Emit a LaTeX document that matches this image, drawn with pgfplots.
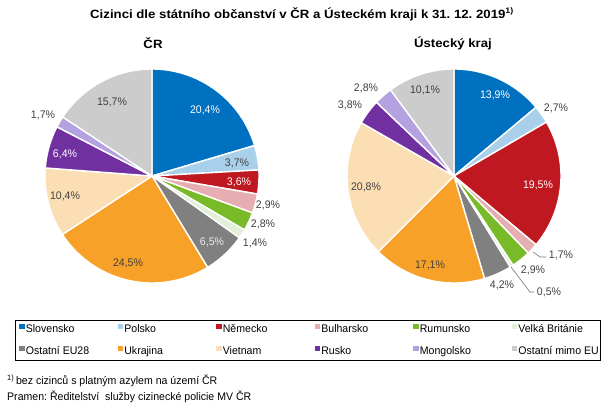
\documentclass[border=0pt]{standalone}
\usepackage{fontspec}
\setmainfont{Liberation Sans}[FakeStretch=0.96]
\newfontfamily\titlefont{Liberation Sans}[FakeStretch=1.1]
\usepackage{pgfplots}
\usepackage{pgfplotstable}
\pgfplotsset{compat=1.18}

\definecolor{cSk}{RGB}{0,112,192}
\definecolor{cPl}{RGB}{169,208,235}
\definecolor{cDe}{RGB}{192,24,32}
\definecolor{cBg}{RGB}{230,174,177}
\definecolor{cRo}{RGB}{120,186,40}
\definecolor{cGb}{RGB}{226,239,217}
\definecolor{cEu}{RGB}{128,128,128}
\definecolor{cUa}{RGB}{247,161,40}
\definecolor{cVn}{RGB}{252,222,180}
\definecolor{cRu}{RGB}{112,48,160}
\definecolor{cMn}{RGB}{180,162,224}
\definecolor{cOt}{RGB}{204,204,204}
\definecolor{lbl}{RGB}{64,64,64}

\tikzset{
  lab/.style={font=\fontsize{11}{12}\selectfont, text=lbl, inner sep=0pt},
  wlab/.style={lab, text=white},
  ttl/.style={font=\titlefont\bfseries\fontsize{12}{14}\selectfont},
}

% shares in percent, clockwise from 12 o'clock
% Slovensko, Polsko, Německo, Bulharsko, Rumunsko, Velká Británie,
% Ostatní EU28, Ukrajina, Vietnam, Rusko, Mongolsko, Ostatní mimo EU
\pgfplotstableread{
value color
20.4 cSk
3.7  cPl
3.6  cDe
2.9  cBg
2.8  cRo
1.4  cGb
6.5  cEu
24.5 cUa
10.4 cVn
6.4  cRu
1.7  cMn
15.7 cOt
}\dataCR

\pgfplotstableread{
value color
13.9 cSk
2.7  cPl
19.5 cDe
1.7  cBg
2.9  cRo
0.5  cGb
4.2  cEu
17.1 cUa
20.8 cVn
3.8  cRu
2.8  cMn
10.1 cOt
}\dataUK

\newcommand{\drawpie}[3]{%
  \gdef\cum{0}%
  \pgfplotstablegetrowsof{#1}%
  \pgfmathtruncatemacro\nrows{\pgfplotsretval-1}%
  \pgfplotsforeachungrouped \i in {0,...,\nrows}{%
    \pgfplotstablegetelem{\i}{value}\of{#1}\let\val\pgfplotsretval
    \pgfplotstablegetelem{\i}{color}\of{#1}\let\col\pgfplotsretval
    \pgfmathsetmacro\nxt{\cum+\val}%
    \edef\temp{\noexpand\addplot[forget plot, fill=\col, draw=white,
      line width=1.4pt, line join=round, domain=\cum:\nxt, samples=50,
      variable=\noexpand\t]
      ({#2+107*sin(3.6*\noexpand\t)},{#3+107*cos(3.6*\noexpand\t)})
      -- (axis cs:#2,#3) -- cycle;}%
    \temp
    \xdef\cum{\nxt}%
  }%
}

\begin{document}
\frenchspacing
\begin{tikzpicture}
\useasboundingbox (0,0) rectangle (604pt,405pt);
\begin{axis}[
  at={(0,0)}, anchor=south west,
  width=604pt, height=405pt, scale only axis,
  xmin=0, xmax=604, ymin=0, ymax=405,
  enlargelimits=false, hide axis, clip=false,
  sq/.style={legend image code/.code={\fill[#1] (0pt,1pt) rectangle (4.5pt,5.5pt);}},
  legend columns=6,
  legend style={
    at={(0.02483,0.2099)}, anchor=north west,
    draw=black, line width=0.9pt,
    inner xsep=4pt, inner ysep=3pt,
    font=\fontsize{11}{12}\selectfont,
    row sep=9.5pt,
    nodes={inner xsep=1pt, inner ysep=1pt, text height=8pt, text depth=2.5pt},
    /tikz/every even column/.append style={column sep=2.1pt},
    /tikz/every odd column/.append style={column sep=0pt},
  },
]
\drawpie{\dataCR}{152}{229}
\drawpie{\dataUK}{454}{229}

\addlegendimage{sq=cSk}\addlegendentry{\makebox[89pt][l]{Slovensko}}
\addlegendimage{sq=cPl}\addlegendentry{\makebox[89pt][l]{Polsko}}
\addlegendimage{sq=cDe}\addlegendentry{\makebox[89pt][l]{Německo}}
\addlegendimage{sq=cBg}\addlegendentry{\makebox[89pt][l]{Bulharsko}}
\addlegendimage{sq=cRo}\addlegendentry{\makebox[89pt][l]{Rumunsko}}
\addlegendimage{sq=cGb}\addlegendentry{\makebox[77pt][l]{Velká Británie}}
\addlegendimage{sq=cEu}\addlegendentry{\makebox[89pt][l]{Ostatní EU28}}
\addlegendimage{sq=cUa}\addlegendentry{\makebox[89pt][l]{Ukrajina}}
\addlegendimage{sq=cVn}\addlegendentry{\makebox[89pt][l]{Vietnam}}
\addlegendimage{sq=cRu}\addlegendentry{\makebox[89pt][l]{Rusko}}
\addlegendimage{sq=cMn}\addlegendentry{\makebox[89pt][l]{Mongolsko}}
\addlegendimage{sq=cOt}\addlegendentry{\makebox[77pt][l]{Ostatní mimo EU}}

% titles
\node[ttl] at (axis cs:302,391)
  {Cizinci dle státního občanství v ČR a Ústeckém kraji k 31. 12. 2019\textsuperscript{1)}};
\node[ttl] at (axis cs:153,362) {ČR};
\node[ttl] at (axis cs:453,362) {Ústecký kraj};

% labels ČR
\node[wlab] at (axis cs:205,295) {20,4\%};
\node[lab]  at (axis cs:237,242) {3,7\%};
\node[wlab] at (axis cs:239,223) {3,6\%};
\node[lab]  at (axis cs:268,200) {2,9\%};
\node[lab]  at (axis cs:263,181) {2,8\%};
\node[lab]  at (axis cs:255,162) {1,4\%};
\node[lab, text=white!92!black] at (axis cs:212,163) {6,5\%};
\node[lab]  at (axis cs:128,142) {24,5\%};
\node[lab]  at (axis cs:65,209) {10,4\%};
\node[wlab] at (axis cs:65,251) {6,4\%};
\node[lab]  at (axis cs:43,290) {1,7\%};
\node[lab]  at (axis cs:112,303) {15,7\%};

% labels Ústecký kraj
\node[wlab] at (axis cs:495,310) {13,9\%};
\node[lab]  at (axis cs:556,297) {2,7\%};
\node[wlab] at (axis cs:538,220) {19,5\%};
\node[lab]  at (axis cs:561,150) {1,7\%};
\node[lab]  at (axis cs:533,135) {2,9\%};
\node[lab]  at (axis cs:549,113) {0,5\%};
\node[lab]  at (axis cs:502,120) {4,2\%};
\node[lab]  at (axis cs:430,140) {17,1\%};
\node[lab]  at (axis cs:366,218) {20,8\%};
\node[lab]  at (axis cs:350,300) {3,8\%};
\node[lab]  at (axis cs:366,317) {2,8\%};
\node[lab]  at (axis cs:425,315) {10,1\%};
\draw[black!55, line width=0.6pt] (axis cs:533,153) -- (axis cs:540,148) -- (axis cs:546,148);
\draw[black!55, line width=0.6pt] (axis cs:511,138) -- (axis cs:530,113) -- (axis cs:534,113);

% footnotes
\node[anchor=west, inner sep=0pt, font=\fontsize{11}{12}\selectfont] at (axis cs:7,24)
  {\textsuperscript{1)}\,bez cizinců s platným azylem na území ČR};
\node[anchor=west, inner sep=0pt, font=\fontsize{11}{12}\selectfont] at (axis cs:7,8)
  {Pramen: Ředitelství\ \ služby cizinecké policie MV ČR};
\end{axis}
\end{tikzpicture}
\end{document}
